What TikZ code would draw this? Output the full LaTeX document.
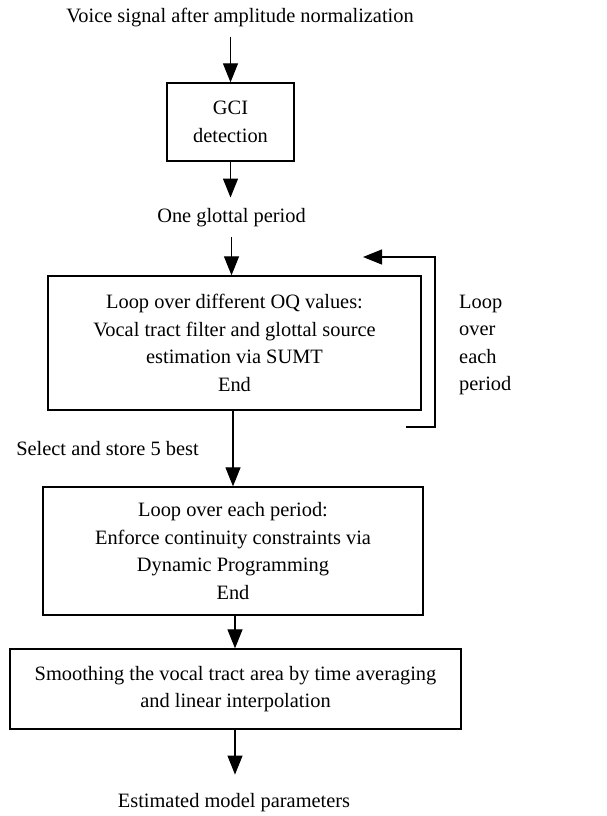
\documentclass[tikz,border=0pt]{standalone}
\usepackage{fontspec}
\setmainfont{Liberation Serif}
\usetikzlibrary{arrows.meta}

\tikzset{
  box/.style={draw, line width=1.3pt, align=center, inner sep=0pt},
  lbl/.style={align=center, inner sep=0pt},
  arr/.style={line width=1.2pt, -{Triangle[length=19pt,width=15pt]}}
}

\begin{document}
\begin{tikzpicture}[x=1pt,y=-1pt,font=\fontsize{20.4}{27.5}\selectfont]
      \useasboundingbox (0,0) rectangle (606,816);
      % blocks
      \node[lbl] (input) at (240,18) {Voice signal after amplitude normalization};
      \node[box, minimum width=127pt, minimum height=78pt] (gci) at (230.5,122) {GCI\\detection};
      \node[lbl] (period) at (231.5,218) {One glottal period};
      \node[box, minimum width=373pt, minimum height=134pt] (oq) at (234.5,343)
        {Loop over different OQ values:\\Vocal tract filter and glottal source\\estimation via SUMT\\End};
      \node[lbl] (select) at (107.5,449) {Select and store 5 best};
      \node[box, minimum width=380pt, minimum height=128pt] (dp) at (233,551)
        {Loop over each period:\\Enforce continuity constraints via\\Dynamic Programming\\End};
      \node[box, minimum width=451pt, minimum height=80pt] (smooth) at (235.5,689)
        {Smoothing the vocal tract area by time averaging\\and linear interpolation};
      \node[lbl] (output) at (234,803) {Estimated model parameters};
      \node[lbl, align=left, anchor=west] (looplbl) at (459,345) {Loop\\over\\each\\period};
      % arrows
      \draw[arr, shorten <=9pt] (gci.north |- input.south) -- (gci.north);
      \draw[arr, shorten >=11pt] (gci.south) -- (gci.south |- period.north);
      \draw[arr, shorten <=8pt] (oq.north -| period.south) ++(0,-46) -- (oq.north -| period.south);
      \draw[arr] (oq.south -| 233,0) -- (dp.north -| 233,0);
      \draw[arr] (dp.south -| 235,0) -- (smooth.north -| 235,0);
      \draw[arr, shorten >=19pt] (smooth.south -| 235,0) -- (output.north -| 235,0);
      % loop back
      \coordinate (loopin) at (406,427);
      \coordinate (loopout) at (363,257);
      \draw[arr] (loopin) -- ++(29,0) |- (loopout);
\end{tikzpicture}
\end{document}
